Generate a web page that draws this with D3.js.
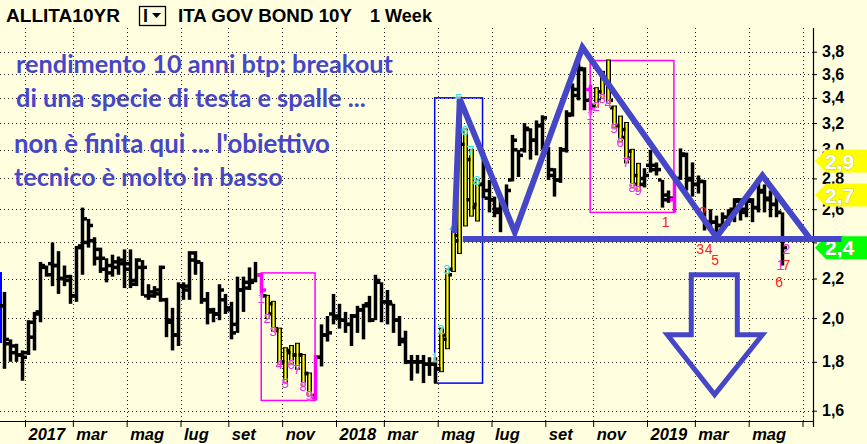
<!DOCTYPE html>
<html><head><meta charset="utf-8">
<script src="https://cdn.jsdelivr.net/npm/d3@7"></script>
<style>html,body{margin:0;padding:0;background:#ffffe0;}svg{display:block}</style>
</head><body>
<svg id="c" width="867" height="444"></svg>
<script>
// ---------- DATA ----------
const firstWeek = "2016-12-05"; // Monday of first weekly bar
const opens  = [2.06,1.88,1.84,1.83,1.84,1.91,2.02,2.26,2.28,2.27,2.20,2.21,2.11,2.38,2.40,2.41,2.31,2.25,2.27,2.29,2.28,2.25,2.19,2.26,2.11,2.13,2.14,2.09,1.99,1.92,2.16,2.14,2.30,2.29,2.09,2.03,2.02,2.09,2.04,1.97,2.14,2.18,2.19,2.22,2.11,2.07,1.94,1.80,1.84,1.83,1.83,1.75,1.65,1.82,1.92,2.02,2.00,1.99,1.97,2.01,2.04,2.06,1.99,2.18,2.08,2.07,1.99,1.89,1.80,1.80,1.80,1.79,1.79,1.77,1.90,2.25,2.41,3.04,2.93,2.63,2.76,2.72,2.66,2.58,2.63,2.79,3.00,3.00,3.15,3.07,3.18,2.98,2.82,2.79,3.00,3.27,3.42,3.64,3.47,3.34,3.45,3.55,3.32,3.18,3.15,2.99,2.82,2.80,2.89,2.86,2.79,2.69,2.66,2.80,2.96,2.80,2.76,2.78,2.52,2.52,2.50,2.55,2.58,2.65,2.60,2.65,2.61,2.71,2.67,2.63,2.58];
const highs  = [2.13,1.90,1.88,1.85,1.99,2.03,2.29,2.27,2.40,2.35,2.27,2.22,2.38,2.61,2.54,2.43,2.37,2.31,2.33,2.32,2.36,2.36,2.31,2.30,2.17,2.16,2.27,2.10,2.05,2.18,2.18,2.35,2.35,2.29,2.13,2.05,2.17,2.12,2.08,2.21,2.21,2.26,2.29,2.23,2.11,2.08,1.95,1.86,1.87,1.88,1.83,1.75,1.83,1.97,2.01,2.12,2.07,2.03,2.02,2.06,2.07,2.11,2.22,2.18,2.14,2.07,2.01,1.94,1.83,1.83,1.83,1.82,1.82,1.95,2.25,2.49,3.40,3.15,3.00,2.79,2.96,2.79,2.68,2.66,2.76,3.11,3.00,3.20,3.16,3.22,3.26,3.02,2.87,3.02,3.30,3.52,3.72,3.66,3.51,3.48,3.62,3.72,3.33,3.25,3.20,3.00,2.90,2.87,3.00,2.91,2.79,2.72,2.79,3.01,2.98,2.91,2.82,2.79,2.60,2.56,2.58,2.60,2.67,2.67,2.69,2.67,2.77,2.76,2.72,2.69,2.58];
const lows   = [1.77,1.80,1.80,1.72,1.83,1.85,1.98,2.21,2.16,2.12,2.16,2.07,2.08,2.22,2.37,2.27,2.23,2.18,2.21,2.22,2.15,2.15,2.16,2.11,2.09,2.10,2.08,1.91,1.85,1.87,2.09,2.09,2.22,2.07,1.97,1.98,1.99,2.02,1.90,1.93,2.03,2.14,2.18,2.10,2.00,1.94,1.79,1.71,1.79,1.77,1.70,1.66,1.64,1.78,1.89,1.97,1.95,1.93,1.87,1.93,1.90,1.98,1.99,1.98,1.97,1.93,1.87,1.79,1.72,1.75,1.71,1.74,1.71,1.76,1.86,2.24,2.34,2.50,2.56,2.53,2.67,2.58,2.55,2.46,2.58,2.78,2.81,2.98,2.93,2.96,3.00,2.79,2.68,2.77,2.98,3.25,3.38,3.30,3.26,3.33,3.40,3.36,3.16,3.06,2.91,2.74,2.72,2.74,2.84,2.82,2.61,2.64,2.58,2.79,2.72,2.68,2.70,2.47,2.48,2.46,2.47,2.50,2.52,2.53,2.55,2.52,2.58,2.58,2.55,2.55,2.27];
const closes = [1.90,1.87,1.83,1.82,1.98,2.03,2.27,2.22,2.27,2.20,2.19,2.11,2.37,2.54,2.50,2.36,2.31,2.23,2.26,2.30,2.28,2.17,2.30,2.26,2.11,2.12,2.26,1.98,1.92,2.16,2.16,2.34,2.29,2.09,2.04,2.02,2.14,2.05,1.93,2.14,2.15,2.18,2.22,2.14,2.02,1.95,1.80,1.85,1.83,1.83,1.75,1.66,1.82,1.92,1.93,2.01,1.99,1.97,2.01,2.04,2.07,1.99,2.19,2.08,2.08,1.99,1.90,1.80,1.80,1.80,1.79,1.79,1.77,1.92,2.22,2.44,3.30,2.66,2.61,2.76,2.67,2.66,2.60,2.63,2.72,3.07,2.96,3.16,3.07,3.18,3.24,2.86,2.79,3.00,3.26,3.47,3.65,3.38,3.32,3.38,3.55,3.38,3.18,3.09,2.94,2.76,2.76,2.82,2.89,2.86,2.66,2.67,2.77,2.97,2.79,2.76,2.78,2.50,2.52,2.50,2.55,2.60,2.66,2.58,2.66,2.61,2.72,2.66,2.63,2.58,2.37];

const yTicks      = [3.8,3.6,3.4,3.2,3.0,2.8,2.6,2.4,2.2,2.0,1.8,1.6];
const yTickLabels = ["3,8","3,6","3,4","3,2","3,0","2,8","2,6","2,4","2,2","2,0","1,8","1,6"];
const xTickDates  = ["2017-01-02","2017-02-27","2017-05-01","2017-07-03","2017-08-28","2017-10-30","2018-01-01","2018-02-26","2018-04-30","2018-07-02","2018-09-03","2018-10-29","2018-12-31","2019-02-25","2019-04-29","2019-07-01"];
const xTickLabels = ["2017","mar","mag","lug","set","nov","2018","mar","mag","lug","set","nov","2019","mar","mag",""];

// setups (bar index ranges) and their counts
const setupPink1 = {from:43, to:52, pinkBars:[43,52], yellowBars:[44,45,46,47,48,49,50,51], labelBars:[43,44,45,46,47,48,49,50,51]};
const setupPink2 = {from:98, to:112, pinkBars:[98,112], yellowBars:[99,100,101,102,103,104,105,106], labelBars:[98,99,100,101,102,103,104,105,106]};
const setupBlue  = {from:72, to:80, pinkBars:[], yellowBars:[73,74,75,76,77,78,79], labelBars:[72,73,74,75,76,77,78,79,80]};

// price tags on the right axis
const tagValues = [2.92, 2.69, 2.37];
const tagLabels = ["2,9", "2,7", "2,4"];
const tagColors = ["#ffff00", "#ffff00", "#00ff00"];

// head & shoulders drawing (bar index, value)
const hsLine   = [[75.3,2.455],[76.2,3.39],[85.4,2.46],[96.7,3.84],[119.1,2.43],[126.8,2.82],[134.8,2.42]];
const neckLine = [[76.7,2.42],[140.0,2.42]];
const arrowPts = [[114.9,2.22],[122.6,2.22],[122.6,1.921],[126.8,1.921],[118.8,1.663],[110.9,1.921],[114.9,1.921]];

// countdown labels (bar index, value, text, colour)
const countLabels = [
  [110.6,2.52,"1","#ff2020"],[116.8,2.585,"2","#ff2020"],[116.4,2.36,"3","#ff2020"],[117.8,2.36,"4","#ff2020"],
  [118.9,2.30,"5","#ff2020"],[129.6,2.18,"6","#ff2020"],[130.8,2.27,"7","#ff2020"],[129.8,2.27,"1","#ee22ee"],[130.8,2.36,"2","#ee22ee"]
];

const noteLines = ["rendimento 10 anni btp: breakout","di una specie di testa e spalle ...","non è finita qui ... l'obiettivo","tecnico è molto in basso"];

// ---------- CHART ----------
const svg = d3.select("#c");
const parse = d3.utcParse("%Y-%m-%d");
const DAY = 864e5;
const plotRight = 813, plotTop = 28, plotBottom = 421;
const x = d3.scaleUtc().domain([parse("2017-01-02"), parse("2018-12-31")]).range([25, 647]);
const y = d3.scaleLog().domain([1.6, 3.8]).range([410.7, 51.7]);
const t0 = parse(firstWeek).getTime();
const xi = i => x(new Date(t0 + (i * 7 + 3.5) * DAY));

svg.append("rect").attr("width",867).attr("height",444).attr("fill","#ffffe0");

// grid
const grid = svg.append("g").attr("stroke","#222").attr("stroke-width",1).attr("stroke-dasharray","1,3");
grid.selectAll(".hg").data(yTicks).join("line")
  .attr("x1",0).attr("x2",plotRight).attr("y1",d=>Math.round(y(d))+0.5).attr("y2",d=>Math.round(y(d))+0.5);
grid.selectAll(".vg").data(xTickDates).join("line")
  .attr("y1",plotTop).attr("y2",plotBottom).attr("x1",d=>Math.round(x(parse(d)))+0.5).attr("x2",d=>Math.round(x(parse(d)))+0.5);

// axes
svg.append("line").attr("x1",0).attr("x2",plotRight).attr("y1",plotBottom+0.5).attr("y2",plotBottom+0.5).attr("stroke","#000").attr("stroke-width",1.2);
svg.append("line").attr("x1",plotRight+0.5).attr("x2",plotRight+0.5).attr("y1",plotTop).attr("y2",plotBottom+6).attr("stroke","#000").attr("stroke-width",1.2);

const xAxis = d3.axisBottom(x).tickValues(xTickDates.map(parse)).tickSize(6).tickFormat((d,i)=>xTickLabels[i]);
const gx = svg.append("g").attr("transform",`translate(0,${plotBottom})`).call(xAxis);
gx.select(".domain").remove();
gx.selectAll("line").attr("stroke","#000");
gx.selectAll("text").attr("text-anchor","start").attr("dx","3").attr("dy","0").attr("y",18.5)
  .attr("font-family","'Liberation Sans',Arial,sans-serif").attr("font-size",16.5).attr("font-weight","bold").attr("font-style","italic").attr("fill","#000");

const yAxis = d3.axisRight(y).tickValues(yTicks).tickSize(4).tickPadding(5).tickFormat((d,i)=>yTickLabels[i]);
const gy = svg.append("g").attr("transform",`translate(${plotRight},0)`).call(yAxis);
gy.select(".domain").remove();
gy.selectAll("line").attr("stroke","#000");
gy.selectAll("text").attr("font-family","'Liberation Sans',Arial,sans-serif").attr("font-size",16).attr("font-weight","bold").attr("fill","#000");

// left clipped blue line
svg.append("line").attr("x1",1).attr("x2",1).attr("y1",272).attr("y2",343).attr("stroke","#0000ff").attr("stroke-width",2);

// setup boxes
function box(s, color){
  const idx = d3.range(s.from, s.to+1);
  const top = y(d3.max(idx, i=>highs[i])), bot = y(d3.min(idx, i=>lows[i]));
  svg.append("rect").attr("x",xi(s.from)).attr("y",top).attr("width",xi(s.to)-xi(s.from)).attr("height",bot-top)
    .attr("fill","none").attr("stroke",color).attr("stroke-width",1.5);
}
box(setupPink1,"#ff00ff"); box(setupPink2,"#ff00ff"); box(setupBlue,"#0000ff");

// bars
const pinkSet = new Set([...setupPink1.pinkBars, ...setupPink2.pinkBars]);
const yellowSet = new Set([...setupPink1.yellowBars, ...setupPink2.yellowBars, ...setupBlue.yellowBars]);
const bars = svg.append("g");
d3.range(opens.length).forEach(i=>{
  const cx = Math.round(xi(i)) + 0.5;
  const col = pinkSet.has(i) ? "#ff00ff" : "#000";
  const g = bars.append("g");
  if (yellowSet.has(i)) {
    g.append("line").attr("x1",cx).attr("x2",cx).attr("y1",y(highs[i])-1).attr("y2",y(lows[i])+1).attr("stroke","#000").attr("stroke-width",5);
    g.append("line").attr("x1",cx).attr("x2",cx).attr("y1",y(highs[i])).attr("y2",y(lows[i])).attr("stroke","#ffff00").attr("stroke-width",2.2);
  } else {
    g.append("line").attr("x1",cx).attr("x2",cx).attr("y1",y(highs[i])).attr("y2",y(lows[i])).attr("stroke",col).attr("stroke-width",3.5);
  }
  g.append("line").attr("x1",cx-4.5).attr("x2",cx-1).attr("y1",y(opens[i])).attr("y2",y(opens[i])).attr("stroke",col).attr("stroke-width",3.5);
  g.append("line").attr("x1",cx+1).attr("x2",cx+4.5).attr("y1",y(closes[i])).attr("y2",y(closes[i])).attr("stroke",col).attr("stroke-width",3.5);
});

// setup counts
const lblFont = "'Liberation Sans',Arial,sans-serif";
function counts(s, color, above){
  s.labelBars.forEach((b,k)=>{
    svg.append("text").attr("x",xi(b)).attr("y", above ? y(highs[b])+5 : y(lows[b])+5)
      .attr("text-anchor","middle").attr("font-family",lblFont).attr("font-size",13)
      .attr("fill",color).attr("stroke","#ffffff").attr("stroke-width",0.6).attr("paint-order","stroke")
      .text(k+1);
  });
}
counts(setupPink1,"#ee22ee",false); counts(setupPink2,"#ee22ee",false); counts(setupBlue,"#22dddd",true);

countLabels.forEach(([i,v,t,c])=>{
  svg.append("text").attr("x",xi(i)).attr("y",y(v)).attr("dy","0.35em").attr("text-anchor","middle")
    .attr("font-family",lblFont).attr("font-size",14).attr("fill",c).text(t);
});

// price tags
tagValues.forEach((v,k)=>{
  const cy = y(v), h = 23;
  svg.append("path").attr("d",`M815,${cy} L826,${cy-h/2} L867,${cy-h/2} L867,${cy+h/2} L826,${cy+h/2} Z`).attr("fill",tagColors[k]);
  svg.append("text").attr("x",825).attr("y",cy).attr("dy","0.36em").attr("font-family",lblFont).attr("font-weight","bold")
    .attr("font-size",21).attr("fill","#fff").attr("stroke","#999").attr("stroke-width",0.5).attr("paint-order","stroke").text(tagLabels[k]);
});

// head & shoulders
const blue = "#4646c8";
const lineGen = d3.line().x(d=>xi(d[0])).y(d=>y(d[1]));
svg.append("path").attr("d",lineGen(hsLine)).attr("fill","none").attr("stroke",blue).attr("stroke-width",6).attr("stroke-linejoin","miter");
svg.append("path").attr("d",lineGen(neckLine)).attr("fill","none").attr("stroke",blue).attr("stroke-width",6);
svg.append("path").attr("d",lineGen(arrowPts)+"Z").attr("fill","none").attr("stroke",blue).attr("stroke-width",5).attr("stroke-linejoin","miter");

// notes
const noteX = [16,16,14,14], noteY = [73.3,106.7,153.3,185.7], noteW = [377,350,316,269];
noteLines.forEach((t,k)=>{
  const tx = svg.append("text").attr("x",noteX[k]).attr("y",noteY[k]).attr("font-family","Lato,'Open Sans',sans-serif")
    .attr("font-weight","bold").attr("font-size",22).attr("fill",blue).text(t);
  const w = tx.node().getComputedTextLength();
  tx.attr("font-size", 22*noteW[k]/w);
});

// header
const hdr = [["ALLITA10YR",6,114],["ITA GOV BOND 10Y",178,174],["1 Week",370,62]];
hdr.forEach(([t,hx,hw])=>{
  const tx = svg.append("text").attr("x",hx).attr("y",22).attr("font-family",lblFont).attr("font-weight","bold").attr("font-size",18).attr("fill","#000").text(t);
  const w = tx.node().getComputedTextLength();
  tx.attr("font-size",18*hw/w);
});
svg.append("rect").attr("x",139.5).attr("y",6.5).attr("width",26).attr("height",19).attr("fill","none").attr("stroke","#000").attr("stroke-width",1.3);
svg.append("text").attr("x",143).attr("y",22).attr("font-family",lblFont).attr("font-weight","bold").attr("font-size",18).text("I");
svg.append("path").attr("d","M152,13 L161,13 L156.5,18 Z").attr("fill","#000");
</script>
</body></html>
